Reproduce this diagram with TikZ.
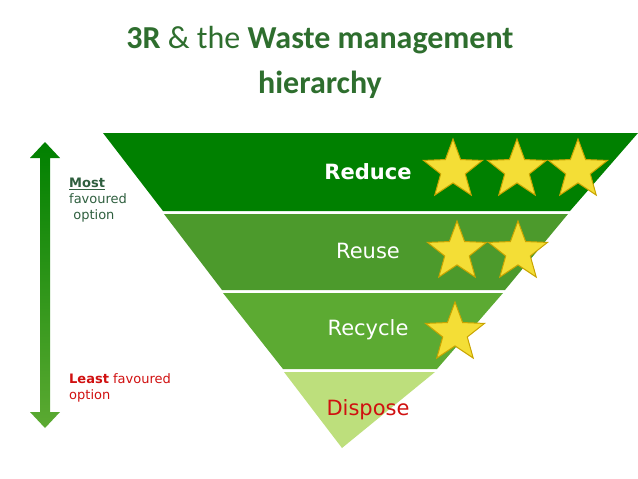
\documentclass[tikz,border=0pt]{standalone}
\usepackage{fontspec}
\setmainfont{DejaVu Sans}
\newfontfamily\titlefont{Carlito}
\usetikzlibrary{shapes.geometric}
\definecolor{tgreen}{HTML}{2E6E2E}
\definecolor{cA}{HTML}{008000}
\definecolor{cB}{HTML}{4C9A2C}
\definecolor{cC}{HTML}{5CAA32}
\definecolor{cD}{HTML}{BDDF7C}
\definecolor{lblg}{HTML}{2F5F3F}
\definecolor{lred}{HTML}{D01010}
\definecolor{starf}{HTML}{F4DE36}
\definecolor{stard}{HTML}{C9A400}
\tikzset{
  stardeco/.style={star,star points=5,star point ratio=2.4,minimum size=62pt,inner sep=0pt,fill=starf,draw=stard,line width=1pt},
  bandlbl/.style={font=\fontsize{21}{24}\selectfont,anchor=center},
  sidelbl/.style={font=\fontsize{13}{16}\selectfont,anchor=north west,align=left,inner sep=0pt}
}
\begin{document}
\begin{tikzpicture}[x=1pt,y=-1pt]
\useasboundingbox (0,0) rectangle (638,479);
\node[font=\titlefont\fontsize{32}{36}\selectfont,text=tgreen] (t1) at (320,40) {\textbf{3R} \& the \textbf{Waste management}};
\node[font=\titlefont\fontsize{32}{36}\selectfont\bfseries,text=tgreen] (t2) at (320,85) {hierarchy};
\fill[cA] (103,133) -- (638,133) -- (570,211) -- (163,211) -- cycle;
\fill[cB] (164,214) -- (568,214) -- (505,290) -- (222,290) -- cycle;
\fill[cC] (223,293) -- (503,293) -- (437,369) -- (283,369) -- cycle;
\fill[cD] (284,372) -- (435,372) -- (342,448) -- cycle;
\node[bandlbl,text=white,font=\fontsize{21}{24}\selectfont\bfseries] (r1) at (368,172) {Reduce};
\node[bandlbl,text=white] (r2) at (368,251) {Reuse};
\node[bandlbl,text=white] (r3) at (368,330) {Recycle};
\node[bandlbl,text=lred] (r4) at (368,410) {Dispose};
\node[stardeco] (s1) at (453,170) {};
\node[stardeco] (s2) at (517,170) {};
\node[stardeco] (s3) at (578,170) {};
\node[stardeco] (s4) at (457,252) {};
\node[stardeco] (s5) at (518,252) {};
\node[stardeco] (s6) at (455,333) {};
\shade[top color=cA,bottom color=cC]
  (45,142) -- (60,158) -- (50,158) -- (50,412) -- (60,412) -- (45,428) -- (30,412) -- (40,412) -- (40,158) -- (30,158) -- cycle;
\node[sidelbl,text=lblg] (m) at (69,178) {\textbf{\underline{Most}}\\favoured\\\ option};
\node[sidelbl,text=lred] (l) at (69,373) {\textbf{Least} favoured\\option};
\end{tikzpicture}
\end{document}
